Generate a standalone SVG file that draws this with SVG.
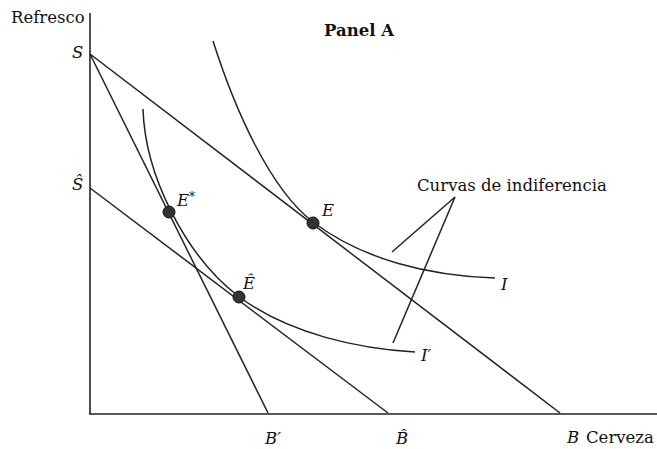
<svg xmlns="http://www.w3.org/2000/svg" width="657" height="449" viewBox="0 0 657 449">
<style>
.ax{stroke:#222;stroke-width:1.6;fill:none}
.ln{stroke:#222;stroke-width:1.5;fill:none}
.t{font-family:"DejaVu Serif","Liberation Serif",serif;font-size:16.5px;fill:#111}
.it{font-family:"DejaVu Serif","Liberation Serif",serif;font-style:italic;font-size:16.5px;fill:#111}
.pt{fill:#333;stroke:#111;stroke-width:1}
</style>
<rect width="657" height="449" fill="#fff"/>
<g id="axes">
<line class="ax" x1="90" y1="13" x2="90" y2="414"/>
<line class="ax" x1="89" y1="414" x2="657" y2="414"/>
<text class="t" x="11" y="23">Refresco</text>
<text class="t" x="586" y="443">Cerveza</text>
<text class="t" x="324" y="36" font-weight="bold">Panel A</text>
</g>
<g id="connectors">
<line class="ln" x1="90" y1="54" x2="560" y2="413"/>
<line class="ln" x1="90" y1="54" x2="268" y2="413"/>
<line class="ln" x1="90" y1="188" x2="388" y2="413"/>
<path class="ln" d="M213,41 C235,110 270,189 313,222 C363,260 430,276 495,278"/>
<path class="ln" d="M143,109 C145,175 185,255 238,296 C288,334 360,349 415,352"/>
<line class="ln" x1="455" y1="197" x2="392" y2="252" stroke-width="1.3"/>
<line class="ln" x1="455" y1="197" x2="393" y2="343" stroke-width="1.3"/>
</g>
<g id="labels">
<text class="it" x="72" y="58">S</text>
<text class="it" x="72" y="190">Ŝ</text>
<text class="it" x="265" y="444">B′</text>
<text class="it" x="396" y="444">B̂</text>
<text class="it" x="567" y="443">B</text>
<text class="it" x="501" y="290">I</text>
<text class="it" x="421" y="361">I′</text>
<text class="t" x="417" y="191">Curvas de indiferencia</text>
</g>
<g id="E">
<circle class="pt" cx="313" cy="223" r="6"/>
<text class="it" x="322" y="216">E</text>
</g>
<g id="Estar">
<circle class="pt" cx="169" cy="212" r="6"/>
<text class="it" x="177" y="206">E<tspan font-size="12" dy="-5">*</tspan></text>
</g>
<g id="Ehat">
<circle class="pt" cx="239" cy="297" r="6"/>
<text class="it" x="243" y="289">Ê</text>
</g>
</svg>
